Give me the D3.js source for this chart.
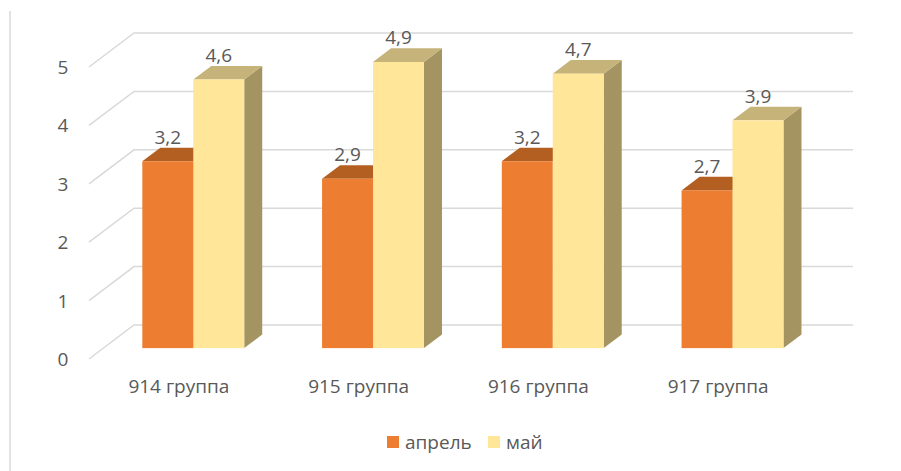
<!DOCTYPE html>
<html>
<head>
<meta charset="utf-8">
<script src="https://cdn.jsdelivr.net/npm/d3@7"></script>
<style>
  body { margin: 0; background: #fff; }
  svg text { font-family: "Open Sans", "Noto Sans", sans-serif; fill: #595959; }
</style>
</head>
<body>
<svg id="chart" width="901" height="471"></svg>
<script>
// data
var categories = ['914 группа', '915 группа', '916 группа', '917 группа'];
var seriesNames = ['апрель', 'май'];
var april = [3.2, 2.9, 3.2, 2.7];
var may = [4.6, 4.9, 4.7, 3.9];
var yTicks = [0, 1, 2, 3, 4, 5];

var values = [april, may];
var faces = [
  { front: '#ED7D31', top: '#B45F22', side: '#9E5220' },
  { front: '#FFE699', top: '#C6B37A', side: '#A39461' }
];
var fontSize = '19px';

var svg = d3.select('#chart');

// plot geometry: front floor line and depth vector (oblique 3D)
var depthX = 45, depthY = -34;                                // back wall minus front edge
var yBack = d3.scaleLinear().domain([0, 5]).range([325, 33]);
var yFront = function(v) { return yBack(v) - depthY };
var x0 = d3.scaleBand().domain(categories).range([89, 808])
  .paddingInner(0.433).paddingOuter(0.2165);
var x1 = d3.scaleBand().domain(seriesNames).range([0, x0.bandwidth()]);

// projects front-plane coords onto depth d (0 = front edge, 1 = back wall)
function pt(x, y, d) { return [x + d * depthX, y + d * depthY] }

// chart border (only left edge shows)
svg.append('line').attr('x1', 10).attr('x2', 10).attr('y1', 11).attr('y2', 471)
  .style('stroke', '#d9d9d9').style('stroke-width', 1.5);

// grid: back wall lines + floor diagonals on the left side wall
var grid = svg.append('g').attr('class', 'grid')
  .style('stroke', '#d9d9d9').style('stroke-width', 1.5).style('fill', 'none');
yTicks.forEach(function(t) {
  var a = pt(x0.range()[0], yFront(t), 0), b = pt(x0.range()[0], yFront(t), 1);
  grid.append('path').attr('d', d3.line()([a, b, [x0.range()[1] + depthX, yBack(t)]]));
});

// y labels
svg.append('g').selectAll('text').data(yTicks).enter().append('text')
  .attr('x', 63).attr('y', function(d) { return yFront(d) + 7 })
  .attr('text-anchor', 'middle').style('font-size', fontSize)
  .text(function(d) { return d });

// bars
var d0 = 0.32, d1 = 0.72;                                      // bar depth span
var barsG = svg.append('g');
categories.forEach(function(c, ci) {
  seriesNames.forEach(function(s, si) {
    var v = values[si][ci], f = faces[si];
    var xl = x0(c) + x1(s), xr = xl + x1.bandwidth();
    var yb = yFront(0), yt = yFront(v);
    var line = d3.line();
    // side
    barsG.append('path').style('fill', f.side)
      .attr('d', line([pt(xr, yb, d0), pt(xr, yb, d1), pt(xr, yt, d1), pt(xr, yt, d0)]) + 'Z');
    // top
    barsG.append('path').style('fill', f.top)
      .attr('d', line([pt(xl, yt, d0), pt(xr, yt, d0), pt(xr, yt, d1), pt(xl, yt, d1)]) + 'Z');
    // front
    var p = pt(xl, yt, d0);
    barsG.append('rect').style('fill', f.front)
      .attr('x', p[0]).attr('y', p[1])
      .attr('width', xr - xl).attr('height', pt(xl, yb, d0)[1] - p[1]);
    // value label
    var lp = pt((xl + xr) / 2, yt, d1);
    barsG.append('text').attr('x', lp[0] - (d1 - d0) * depthX)
      .attr('y', lp[1] - 4).attr('text-anchor', 'middle').style('font-size', fontSize)
      .text(String(v).replace('.', ','));
  });
});

// category labels
svg.append('g').selectAll('text').data(categories).enter().append('text')
  .attr('x', function(d) { return x0(d) + x0.bandwidth() / 2 })
  .attr('y', 393).attr('text-anchor', 'middle').style('font-size', fontSize)
  .text(function(d) { return d });

// legend
var legend = svg.append('g');
var legendX = [387, 488];
seriesNames.forEach(function(s, i) {
  legend.append('rect').attr('x', legendX[i]).attr('y', 436).attr('width', 12).attr('height', 12)
    .style('fill', faces[i].front);
  legend.append('text').attr('x', legendX[i] + 18).attr('y', 449).style('font-size', fontSize).text(s);
});
</script>
</body>
</html>
